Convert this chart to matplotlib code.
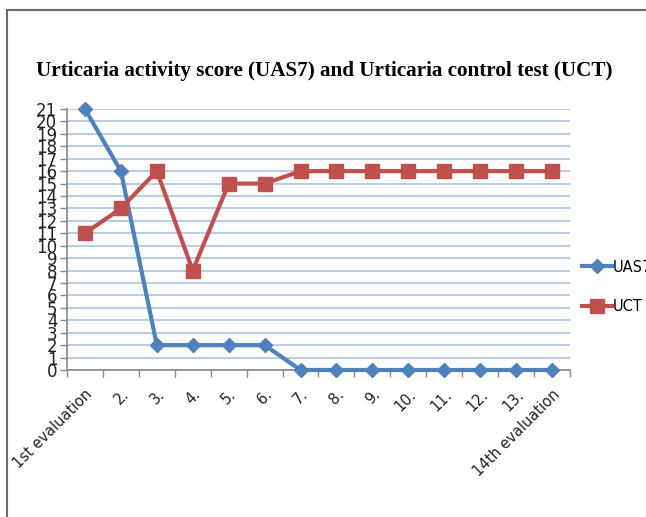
import matplotlib
matplotlib.use("Agg")
import matplotlib.pyplot as plt
from matplotlib.patches import Rectangle

categories = ["1st evaluation", "2.", "3.", "4.", "5.", "6.", "7.", "8.", "9.",
              "10.", "11.", "12.", "13.", "14th evaluation"]
uas7 = [21, 16, 2, 2, 2, 2, 0, 0, 0, 0, 0, 0, 0, 0]
uct = [11, 13, 16, 8, 15, 15, 16, 16, 16, 16, 16, 16, 16, 16]
yticks = list(range(0, 22))

W, H = 646, 517
fig = plt.figure(figsize=(W / 100, H / 100), dpi=100)
fig.patch.set_facecolor("white")

# outer frame
fig.add_artist(Rectangle((7 / W, -0.1), 1.2, 1 - 10 / H + 0.1, transform=fig.transFigure,
                         fill=False, edgecolor="#6d6d6d", linewidth=1.5))

ax = fig.add_axes([67 / W, 1 - 370 / H, (570 - 67) / W, (370 - 109) / H])
x = list(range(len(categories)))
ax.plot(x, uas7, color="#4F81BD", lw=3, marker="D", ms=7.5, label="UAS7", zorder=3, clip_on=False)
ax.plot(x, uct, color="#C0504D", lw=3, marker="s", ms=10, label="UCT", zorder=3, clip_on=False)

ax.set_xlim(-0.5, len(categories) - 0.5)
ax.set_ylim(0, 21)
ax.set_yticks(yticks)
ax.set_yticklabels([str(v) for v in yticks], fontsize=12, family="Liberation Sans Narrow",
                   color="#222222")
ax.yaxis.grid(True, color="#a9c4e4", lw=1.2)
ax.set_axisbelow(True)

ax.set_xticks(x)
ax.set_xticklabels(categories, rotation=45, ha="right", va="top", rotation_mode="anchor",
                   fontsize=10.5, color="#222222")
ax.tick_params(axis="x", which="major", length=0, pad=12)
ax.set_xticks([i - 0.5 for i in range(len(categories) + 1)], minor=True)
ax.tick_params(axis="x", which="minor", length=5, color="#888888", width=1)
ax.tick_params(axis="y", length=5, color="#888888", width=1, pad=2)

for s in ["top", "right"]:
    ax.spines[s].set_visible(False)
for s in ["left", "bottom"]:
    ax.spines[s].set_color("#888888")
    ax.spines[s].set_linewidth(1.2)

fig.text(324 / W, 1 - 71 / H, "Urticaria activity score (UAS7) and Urticaria control test (UCT)",
         ha="center", va="center", fontsize=15.2, fontweight="bold", family="Liberation Serif")

leg = fig.legend(loc="center left", bbox_to_anchor=(576 / W, 1 - 287 / H), frameon=False,
                 fontsize=10.5, handlelength=2.1, labelspacing=1.7, handletextpad=0.05,
                 borderaxespad=0)

fig.savefig("out.png", dpi=100)
